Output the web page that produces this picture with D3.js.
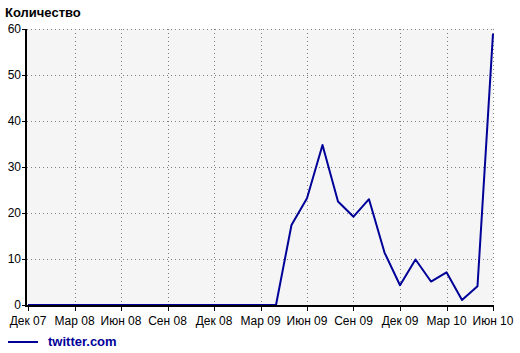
<!DOCTYPE html>
<html>
<head>
<meta charset="utf-8">
<script src="https://cdn.jsdelivr.net/npm/d3@7"></script>
<style>
body { margin:0; background:#fff; }
text { font-family: "Liberation Sans", Arial, sans-serif; }
</style>
</head>
<body>
<svg id="chart" width="520" height="353"></svg>
<script>
var MONTHS = ['Дек 07','Янв 08','Фев 08','Мар 08','Апр 08','Май 08','Июн 08','Июл 08','Авг 08','Сен 08','Окт 08','Ноя 08',
	'Дек 08','Янв 09','Фев 09','Мар 09','Апр 09','Май 09','Июн 09','Июл 09','Авг 09','Сен 09','Окт 09','Ноя 09',
	'Дек 09','Янв 10','Фев 10','Мар 10','Апр 10','Май 10','Июн 10'];
var VALUES = [0,0,0,0,0,0,0,0,0,0,0,0,
	0,0,0,0,0,17.4,23.2,34.8,22.5,19.2,23,11.4,
	4.3,9.9,5.1,7.1,1.1,4.1,59];
var Y_TICKS = [0,10,20,30,40,50,60];
var SERIES = 'twitter.com';
var TITLE = 'Количество';

var svg = d3.select('#chart');
var PL = 27, PR = 493, PT = 29, PB = 305; // plot box

var x = d3.scaleLinear().domain([0, MONTHS.length-1]).range([PL+1, PR]);
var y = d3.scaleLinear().domain([0, 60]).range([PB, PT]);

var xTicks = d3.range(0, MONTHS.length, 3); // quarterly labels

svg.append('rect').attr('x', PL).attr('y', PT).attr('width', PR-PL).attr('height', PB-PT).attr('fill', '#f5f5f5');

// grid
var grid = svg.append('g').attr('stroke', '#808080').attr('stroke-width', 1).attr('stroke-dasharray', '1,3');
grid.selectAll('line.h').data(Y_TICKS.filter(function(d){ return d > 0; })).enter().append('line')
	.attr('x1', PL).attr('x2', PR+0.5)
	.attr('y1', function(d){ return Math.round(y(d))+0.5; }).attr('y2', function(d){ return Math.round(y(d))+0.5; });
grid.selectAll('line.v').data(xTicks.slice(1)).enter().append('line')
	.attr('y1', PT).attr('y2', PB)
	.attr('x1', function(d){ return Math.round(x(d))+0.5; }).attr('x2', function(d){ return Math.round(x(d))+0.5; });

// data line
var line = d3.line().x(function(d, i){ return x(i); }).y(function(d){ return y(d); });
svg.append('path').datum(VALUES).attr('d', line).attr('fill', 'none').attr('stroke', '#000099').attr('stroke-width', 2).attr('stroke-linejoin', 'round');

// axes
var yAxis = svg.append('g');
yAxis.append('line').attr('x1', PL-1).attr('x2', PL-1).attr('y1', PT).attr('y2', PB+2).attr('stroke', '#000').attr('stroke-width', 2);
yAxis.selectAll('line.t').data(Y_TICKS).enter().append('line')
	.attr('x1', PL-5).attr('x2', PL-1)
	.attr('y1', function(d){ return Math.round(y(d))+0.5; }).attr('y2', function(d){ return Math.round(y(d))+0.5; })
	.attr('stroke', '#000');
yAxis.selectAll('text').data(Y_TICKS).enter().append('text')
	.attr('x', PL-6).attr('y', function(d){ return y(d)+4; })
	.attr('text-anchor', 'end').attr('font-size', 12).text(function(d){ return d; });

var xAxis = svg.append('g');
xAxis.append('line').attr('x1', PL-2).attr('x2', PR+1).attr('y1', PB+1).attr('y2', PB+1).attr('stroke', '#000').attr('stroke-width', 2);
xAxis.selectAll('line.t').data(xTicks).enter().append('line')
	.attr('x1', function(d){ return Math.round(x(d))+0.5; }).attr('x2', function(d){ return Math.round(x(d))+0.5; })
	.attr('y1', PB+1).attr('y2', PB+6).attr('stroke', '#000');
xAxis.selectAll('text').data(xTicks).enter().append('text')
	.attr('x', function(d){ return x(d); }).attr('y', PB+20)
	.attr('text-anchor', 'middle').attr('font-size', 12).text(function(d){ return MONTHS[d]; });

// title
svg.append('text').attr('x', 5).attr('y', 17).attr('font-size', 13).attr('font-weight', 'bold').text(TITLE);

// legend
svg.append('line').attr('x1', 8).attr('x2', 38).attr('y1', 342).attr('y2', 342).attr('stroke', '#000099').attr('stroke-width', 2);
svg.append('text').attr('x', 48).attr('y', 346).attr('font-size', 13).attr('font-weight', 'bold').attr('fill', '#000099').text(SERIES);
</script>
</body>
</html>
